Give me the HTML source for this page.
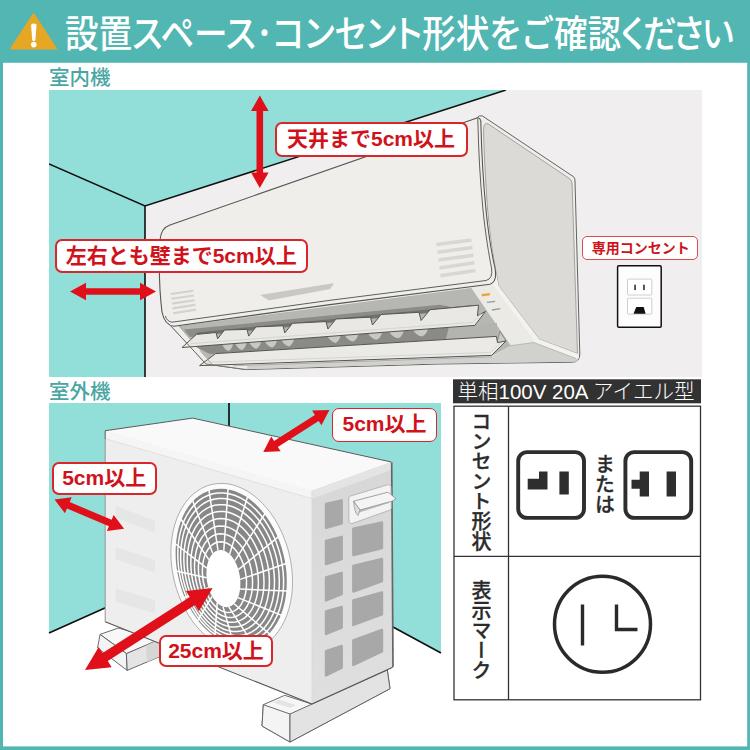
<!DOCTYPE html>
<html lang="ja">
<head>
<meta charset="utf-8">
<title>設置スペース・コンセント形状をご確認ください</title>
<style>
html,body{margin:0;padding:0;background:#52b6b2;}
body{width:750px;height:750px;position:relative;overflow:hidden;font-family:"Liberation Sans","Noto Sans CJK JP",sans-serif;}
#stage{position:absolute;left:0;top:0;width:750px;height:750px;}
svg{position:absolute;left:0;top:0;}
.t{position:absolute;white-space:nowrap;line-height:1;}
.title{left:64.5px;top:16px;font-size:37.5px;color:#fff;font-weight:500;transform:scaleX(0.896);transform-origin:0 0;font-feature-settings:"palt";}
.sec{color:#4aa6a2;font-size:20.5px;font-weight:500;}
.lbl{position:absolute;box-sizing:border-box;background:#fff;border:2px solid #d8262b;border-radius:7px;color:#d0121b;font-weight:700;text-align:center;white-space:nowrap;}
.vt{position:absolute;writing-mode:vertical-rl;white-space:nowrap;line-height:1;color:#2b2b2b;-webkit-text-stroke:0.3px #2b2b2b;}
</style>
</head>
<body>
<div id="stage">
<svg id="art" width="750" height="750" viewBox="0 0 750 750">
<!-- frame -->
<rect x="0" y="0" width="750" height="750" fill="#52b6b2"/>
<rect x="3" y="62.8" width="744.2" height="683.6" fill="#ffffff"/>
<!-- warning icon -->
<path d="M33.6 14.4 L56 48.6 L11.2 48.6 Z" fill="#e5a724" stroke="#e5a724" stroke-width="2" stroke-linejoin="round"/>
<path d="M31.1 25.5 Q31 23.4 33.8 23.4 Q36.6 23.4 36.5 25.5 L35.4 39.8 Q35.2 41.2 33.8 41.2 Q32.4 41.2 32.2 39.8 Z" fill="#fff"/>
<circle cx="33.8" cy="44.6" r="2.8" fill="#fff"/>
<!--INDOOR-->
<g id="indoor">
<clipPath id="cin"><rect x="49" y="90" width="653" height="287"/></clipPath>
<g clip-path="url(#cin)">
<rect x="49" y="90" width="653" height="287" fill="#f0eeee"/>
<polygon points="49,90 506,90 145,206 145,377 49,377" fill="#92dfda"/>
<path d="M49 164 L145 206 L506 90 M145 206 L145 377" fill="none" stroke="#111" stroke-width="1.6"/>
<path d="M477 117.8 Q479 114.8 482.5 116 L573.6 176.8 Q575 177.8 575 181 L579.8 354 Q580 362 572.3 362.2 L440 364 L246 369.6 L206 364 L165 319 Z" fill="#efeeea" stroke="#62625f" stroke-width="1" stroke-linejoin="round"/>
<polygon points="510.4,345.7 533.9,342.5 576,358.5 579,358 577,361.6 572.3,361.8 440,363.6 246,369.2 233,365.8 492,356.8" fill="#d1d1cd"/>
<path d="M483.6 134 Q482.8 120.3 488.8 124.3 L569.8 178.8 Q572 180.3 572.1 184 L577.5 353.6 L539.2 339.3 L498.7 286 C493.5 262 489.8 235 487.6 210 C485.5 180 484 150 483.6 134 Z" fill="#dbdad6" stroke="#858583" stroke-width="0.7" stroke-linejoin="round"/>
<path d="M481.5 119 C482.3 150 484 180 487 210 C489.5 235 493.5 262 498.7 286 L539.2 339.3 L578.2 354 L579.3 357.8 L576 358.5 L533.9 342.5 L491.3 284.8 C488 262 485 235 483 210 C481 180 480 150 479.5 120 Z" fill="#f3f2ee"/>
<polygon points="470.9,288.1 492.3,284.3 533.9,340 533.9,342.5 510.4,345.7" fill="#ebeae5"/>
<path d="M470.9 288.1 L510.4 345.7 L533.9 342.5 L576 358.5" fill="none" stroke="#9a9a98" stroke-width="0.6"/>
<path d="M165 319 L206 364 L246 369.6 L260 340 L200 322 Z" fill="#efeeea"/>
<path d="M179 326 L470.9 288.1 L510.4 345.7 L492 356 L213 364.5 Z" fill="#b6b6b2"/>
<polygon points="184.0,329.6 440.0,304.8 449.0,306.4 452.0,311.1 190.0,337.0" fill="#8c8c89"/>
<polygon points="197.0,332.5 474.0,304.9 476.0,307.7 197.0,335.3" fill="#6f6f6d"/>
<polygon points="195.0,346.5 449.0,327.5 446.0,339.3 210.0,353.9" fill="#8a8a87"/>
<polygon points="449.0,327.5 497.0,322.9 497.0,336.1 446.0,339.3" fill="#b3b3af"/>
<path d="M222.1 344.5 Q225.4 350.6 228.9 350.9 Q232.0 349.1 233.1 343.7 Z" fill="#c8c8c4"/>
<path d="M235.1 343.5 Q238.5 349.6 242.2 349.9 Q245.4 348.1 246.5 342.7 Z" fill="#c8c8c4"/>
<path d="M249.2 342.5 Q252.8 348.5 256.6 348.8 Q260.0 347.0 261.1 341.6 Z" fill="#c8c8c4"/>
<path d="M264.6 341.3 Q268.3 347.3 272.3 347.6 Q275.7 345.8 277.0 340.4 Z" fill="#c8c8c4"/>
<path d="M281.2 340.1 Q285.0 346.1 289.1 346.4 Q292.7 344.6 294.0 339.1 Z" fill="#c8c8c4"/>
<path d="M327.4 336.6 Q331.4 342.6 335.6 342.9 Q339.3 341.1 340.6 335.6 Z" fill="#c8c8c4"/>
<path d="M344.6 335.3 Q348.8 341.3 353.1 341.6 Q357.0 339.8 358.4 334.3 Z" fill="#c8c8c4"/>
<path d="M367.9 333.6 Q372.2 339.5 376.7 339.8 Q380.7 338.0 382.1 332.5 Z" fill="#c8c8c4"/>
<path d="M389.1 332.0 Q393.5 337.9 398.2 338.2 Q402.2 336.4 403.7 330.9 Z" fill="#c8c8c4"/>
<path d="M412.9 330.2 Q417.4 336.1 422.2 336.4 Q426.4 334.6 427.9 329.1 Z" fill="#c8c8c4"/>
<polygon points="500,331.4 496.6,343.5 506,341" fill="#c9c9c5" stroke="#666" stroke-width="0.6" stroke-linejoin="round"/>
<polygon points="182.0,347.5 196.4,334.4 216.0,332.5 217.6,338.8 224.5,330.0 247.0,329.4 248.7,336.1 256.0,326.9 283.0,325.8 284.8,332.9 292.5,323.3 326.0,321.6 327.9,329.0 336.0,319.0 370.5,317.2 372.5,325.0 381.0,314.5 419.0,312.3 421.1,320.5 430.1,309.7 478.6,305.2 477.4,315.8 485.6,311.4 474.8,325.4" fill="#e9e8e4" stroke="#555553" stroke-width="1" stroke-linejoin="round"/>
<path d="M190.0 343.7 L473.0 322.3 L481.0 313.5" fill="none" stroke="#cfcfcb" stroke-width="0.8"/>
<polygon points="199.6,365.6 215.6,353.6 496.4,336.4 497.5,342.6 506.0,341.0 491.6,355.4" fill="#ebeae6" stroke="#555553" stroke-width="1" stroke-linejoin="round"/>
<path d="M207.0 362.3 L490.5 352.4 L500.5 343.2" fill="none" stroke="#cfcfcb" stroke-width="0.8"/>
<path d="M166 320.8 L206 364 L246 369.5" fill="none" stroke="#6a6a68" stroke-width="0.9"/>
<path d="M179 326 L190.5 339.5 M200 350.5 L212 364.3" fill="none" stroke="#8a8a88" stroke-width="0.7"/>
<path d="M233 365.8 L492 356.8" fill="none" stroke="#9a9a98" stroke-width="0.7"/>
<path d="M170 225 L475.5 118.4 Q480 116.8 480.8 121 C481.5 150 483 180 486 210 C488.5 235 492 255 495 268 Q497.5 282 490 284.2 L330 304.6 L174 326.3 Q164.5 325 162 312 Q158 280 160 240 Q161 228 170 225 Z" fill="#efeeea" stroke="#555553" stroke-width="1.1" stroke-linejoin="round"/>
<path d="M477.8 119 C478.5 150 480 180 483 210 C485.5 235 489 255 491.5 268 Q493.2 278.8 486 280.5 L330 300.3 L172 322.2 Q167 321.5 165.3 316" fill="none" stroke="#5e5e5c" stroke-width="1" stroke-linejoin="round"/>
<g stroke="#d3d2cd" stroke-width="2.1"><path d="M170.7 294 L193.3 290.8 M171.3 298.8 L194 295.5 M171.9 303.6 L194.7 300.2 M172.5 308.4 L195.4 304.9 M173.1 313.2 L196 309.6"/></g>
<g stroke="#d8d7d2" stroke-width="3.5"><path d="M436.5 244.5 L471.5 240 M437.5 252.3 L472.5 247.6 M438.5 260.1 L473.5 255.2 M439.5 267.9 L474.5 262.8 M440.5 275.7 L475.5 270.4"/></g>
<path d="M260.1 294.9 L333 283.3 Q334 283.3 333.4 284.2 L330.4 288.6 Q330 289.1 329 289.3 L270 300.3 Q268.8 300.4 267.8 299.8 Z" fill="#c9c8c4"/>
<polygon points="481.5,294 489.8,292.9 490.1,295.3 481.8,296.4" fill="#e9a53c"/>
<path d="M487 302.3 L495.2 301.3 M492 310 L500.3 308.6" stroke="#9a9a98" stroke-width="1.3"/>
<g fill="#e0101a">
<path d="M259.8 95.5 L268.6 111 L263.1 111 L263.1 172.5 L268.6 172.5 L259.8 188 L251 172.5 L256.5 172.5 L256.5 111 L251 111 Z"/>
<path d="M70 291.5 L86 282.8 L86 288.2 L140 288.2 L140 282.8 L156 291.5 L140 300.2 L140 294.8 L86 294.8 L86 300.2 Z"/>
</g>
<!-- outlet plate -->
<rect x="617.6" y="265.8" width="43.6" height="61.4" rx="1.2" fill="#fdfdfd" stroke="#111" stroke-width="1.5"/>
<rect x="627.5" y="279.1" width="24.3" height="15.9" rx="0.8" fill="#fff" stroke="#c4c4c4" stroke-width="0.8"/>
<rect x="627.5" y="298.2" width="24.3" height="16" rx="0.8" fill="#fff" stroke="#c4c4c4" stroke-width="0.8"/>
<rect x="634.3" y="284.7" width="1.5" height="5.4" fill="#222"/><rect x="643.2" y="284.7" width="1.5" height="5.4" fill="#222"/>
<path d="M636.3 307.1 L643.7 307.1 L645.6 313.7 L633.5 313.7 Z" fill="#111"/>
</g>
</g>
<!--OUTDOOR-->
<g id="outdoor">
<!-- walls -->
<polygon points="49,403 229,403 229,553 49,633" fill="#92dfda"/>
<polygon points="229,403 441,403 441,653 394,627.5 229,540" fill="#92dfda"/>
<path d="M229 403 L229 426 M49 633 L106 607.5 M441 653 L393 627" fill="none" stroke="#111" stroke-width="1.7"/>
<!-- left foot -->
<g stroke="#5a5a5a" stroke-width="0.9" stroke-linejoin="round">
<polygon points="100,634.4 118.4,628 160,640 126.4,653.6" fill="#f8f8f8"/>
<polygon points="100,634.4 126.4,653.6 127.2,670.4 97.6,648" fill="#f4f4f4"/>
<polygon points="126.4,653.6 165,637 166,654 127.2,670.4" fill="#e4e4e4"/>
</g>
<polygon points="146,645.5 165,637.3 165.7,653.8 147,662" fill="#d6d6d6"/>
<!-- right foot -->
<g stroke="#5a5a5a" stroke-width="0.9" stroke-linejoin="round">
<polygon points="263.3,704.7 284.7,695.3 311.9,704 387.3,670 390,688.7 290,742 262,726" fill="#f7f7f7"/>
<polygon points="263.3,704.7 290,714 290,742 262,726" fill="#f4f4f4"/>
<polygon points="290,714 387.3,670 390,688.7 290,742" fill="#e3e3e3"/>
</g>
<polygon points="279,699.5 296,705 290,708 273,702.5" fill="#e4e4e4"/>
<!-- unit -->
<polygon points="105.2,430.7 192.7,418.1 391.3,462 392.7,667.3 311.9,704 105.2,621.7" fill="#f2f2f2"/>
<polygon points="105.2,430.7 192.7,418.1 391.3,462 311.9,490.7" fill="#f9f9f9"/>
<polygon points="105.2,430.7 311.9,490.7 311.9,498.7 105.2,438.7" fill="#f5f5f5"/>
<polygon points="105.2,438.7 311.9,498.7 311.9,704 105.2,621.7" fill="#eeeeee"/>
<linearGradient id="gside" x1="0" y1="0" x2="0" y2="1"><stop offset="0" stop-color="#d7d7d7"/><stop offset="1" stop-color="#dfdfdf"/></linearGradient>
<polygon points="311.9,490.7 391.3,462 392.7,667.3 311.9,704" fill="url(#gside)"/>
<polygon points="311.9,490.7 391.3,462 391.4,470 311.9,498.7" fill="#e4e4e4"/>
<path d="M105.2 438.7 L311.9 498.7" fill="none" stroke="#dcdcdc" stroke-width="0.8"/>
<path d="M311.9 490.7 L311.9 704" fill="none" stroke="#dadada" stroke-width="0.8"/>
<path d="M105.2 621.7 L105.2 438" fill="none" stroke="#8a8a8a" stroke-width="0.9"/>
<path d="M105.2 438.7 L105.2 430.7 L192.7 418.1 L391.3 462" fill="none" stroke="#5a5a5a" stroke-width="1" stroke-linejoin="round"/>
<path d="M391.7 462.3 L393 667" fill="none" stroke="#666" stroke-width="1.7"/>
<path d="M105.2 621.7 L311.9 704 L392.7 667.3" fill="none" stroke="#555" stroke-width="1.1" stroke-linejoin="round"/>
<!-- front slots -->
<g fill="#e6e6e6">
<polygon points="115.7,506 155,520.7 155,532.7 115.7,517.3"/>
<polygon points="115.7,546.7 155,560 155,572.7 115.7,559.3"/>
<polygon points="115.7,588.3 155,600 155,613.3 115.7,601.7"/>
</g>
<!-- side grille -->
<g fill="#a8a8a8" stroke="#a8a8a8" stroke-width="2.4" stroke-linejoin="round">
<polygon points="326,504 341.7,500.3 341.7,523.4 326,527.8"/>
<polygon points="326,540.8 341.7,536.8 341.7,559.2 326,564"/>
<polygon points="326,577.3 341.7,573 341.7,594.2 326,600.5"/>
<polygon points="326,611.3 341.7,607 341.7,627.6 326,634"/>
<polygon points="326,651.2 341.7,645.9 341.7,667.6 326,675.4"/>
<polygon points="353.3,528.6 382,522.5 382,548 353.3,555"/>
<polygon points="353.3,566 382,559 382,581 353.3,591.5"/>
<polygon points="353.3,600.5 382,592.5 382,614.3 353.3,625"/>
<polygon points="353.3,640.5 382,630 382,651.5 353.3,665"/>
</g>
<!-- handle -->
<path d="M348.8 498.5 Q348.6 496.6 350.6 496 L387.5 484.8 Q390.3 484 391 486.5 L391.3 508 Q391.3 509.6 389.6 510.2 L353 523.2 Q349.2 524.4 348.9 521 Z" fill="#f3f3f3" stroke="#a9a9a9" stroke-width="0.8" stroke-linejoin="round"/>
<path d="M356.5 513.5 L388.8 503 L391.3 498 L360 507.5 Z" fill="#bcbcbc"/>
<path d="M353.6 501.2 L387.2 492.4 Q388.6 492.2 389.4 493.2 L396 498.8 L392 501.2 L360 510 Z" fill="#f4f4f4" stroke="#8d8d8d" stroke-width="0.8" stroke-linejoin="round"/>
<path d="M353.6 501.2 L360 510 L358 515.5 Q354.5 513 353.6 501.2 Z" fill="#dedede" stroke="#8d8d8d" stroke-width="0.7" stroke-linejoin="round"/>
<path d="M289.0 553.1 L290.5 560.4 L291.7 567.7 L292.3 575.0 L292.5 582.3 L292.3 589.4 L291.5 596.4 L290.4 603.1 L288.7 609.6 L286.7 615.8 L284.2 621.5 L281.3 626.9 L278.1 631.8 L274.5 636.3 L270.5 640.2 L266.3 643.5 L261.8 646.3 L257.1 648.5 L252.2 650.0 L247.1 650.9 L241.9 651.2 L236.6 650.9 L231.3 649.9 L226.0 648.2 L220.8 646.0 L215.6 643.2 L210.6 639.8 L205.7 635.8 L201.0 631.3 L196.5 626.3 L192.3 620.9 L188.4 615.1 L184.9 608.9 L181.7 602.4 L178.9 595.6 L176.4 588.6 L174.4 581.5 L172.9 574.2 L171.7 566.9 L171.1 559.6 L170.9 552.3 L171.1 545.2 L171.9 538.2 L173.0 531.5 L174.7 525.0 L176.7 518.8 L179.2 513.1 L182.1 507.7 L185.3 502.8 L188.9 498.3 L192.9 494.4 L197.1 491.1 L201.6 488.3 L206.3 486.1 L211.2 484.6 L216.3 483.7 L221.5 483.4 L226.8 483.7 L232.1 484.7 L237.4 486.4 L242.6 488.6 L247.8 491.4 L252.8 494.8 L257.7 498.8 L262.4 503.3 L266.9 508.3 L271.1 513.7 L275.0 519.5 L278.5 525.7 L281.7 532.2 L284.5 539.0 L287.0 546.0 Z" fill="#fbfbfb" stroke="#9c9c9c" stroke-width="0.8"/>
<path d="M283.4 554.3 L284.9 561.1 L286.0 567.9 L286.6 574.8 L286.8 581.5 L286.6 588.2 L286.0 594.7 L285.0 601.0 L283.5 607.1 L281.7 612.8 L279.5 618.2 L276.9 623.2 L273.9 627.8 L270.6 631.9 L267.1 635.6 L263.2 638.7 L259.1 641.2 L254.8 643.2 L250.4 644.7 L245.7 645.5 L241.0 645.7 L236.2 645.4 L231.4 644.4 L226.5 642.9 L221.7 640.7 L216.9 638.1 L212.3 634.8 L207.8 631.1 L203.5 626.9 L199.4 622.2 L195.6 617.1 L192.0 611.7 L188.7 605.8 L185.7 599.7 L183.1 593.4 L180.8 586.8 L179.0 580.1 L177.5 573.3 L176.4 566.5 L175.8 559.6 L175.6 552.9 L175.8 546.2 L176.4 539.7 L177.4 533.4 L178.9 527.3 L180.7 521.6 L182.9 516.2 L185.5 511.2 L188.5 506.6 L191.8 502.5 L195.3 498.8 L199.2 495.7 L203.3 493.2 L207.6 491.2 L212.0 489.7 L216.7 488.9 L221.4 488.7 L226.2 489.0 L231.0 490.0 L235.9 491.5 L240.7 493.7 L245.5 496.3 L250.1 499.6 L254.6 503.3 L258.9 507.5 L263.0 512.2 L266.8 517.3 L270.4 522.7 L273.7 528.6 L276.7 534.7 L279.3 541.0 L281.6 547.6 Z" fill="#878787"/>
<path d="M245.7 573.5 L246.2 577.1 L246.5 580.8 L246.5 584.5 L246.3 588.1 L245.9 591.5 L245.2 594.8 L244.3 597.9 L243.1 600.8 L241.8 603.4 L240.3 605.7 L238.6 607.7 L236.7 609.4 L234.7 610.7 L232.6 611.6 L230.4 612.2 L228.2 612.4 L225.9 612.2 L223.6 611.6 L221.3 610.6 L219.0 609.3 L216.8 607.6 L214.7 605.6 L212.6 603.3 L210.7 600.6 L209.0 597.8 L207.4 594.7 L206.1 591.4 L204.9 587.9 L203.9 584.3 L203.2 580.7 L202.7 577.0 L202.4 573.3 L202.4 569.7 L202.6 566.1 L203.0 562.6 L203.7 559.4 L204.6 556.3 L205.8 553.4 L207.1 550.8 L208.6 548.5 L210.3 546.5 L212.2 544.8 L214.2 543.5 L216.3 542.5 L218.5 542.0 L220.7 541.8 L223.0 542.0 L225.3 542.6 L227.6 543.5 L229.9 544.8 L232.1 546.5 L234.2 548.6 L236.3 550.9 L238.1 553.5 L239.9 556.4 L241.4 559.5 L242.8 562.8 L244.0 566.2 L245.0 569.8 Z M251.5 570.9 L252.1 575.2 L252.5 579.6 L252.5 584.0 L252.3 588.2 L251.8 592.3 L250.9 596.2 L249.8 599.9 L248.5 603.3 L246.9 606.5 L245.0 609.2 L242.9 611.7 L240.7 613.7 L238.3 615.3 L235.7 616.5 L233.0 617.2 L230.3 617.4 L227.4 617.2 L224.6 616.6 L221.8 615.5 L219.0 614.0 L216.3 612.0 L213.7 609.7 L211.2 606.9 L208.9 603.9 L206.7 600.5 L204.8 596.8 L203.1 592.9 L201.6 588.9 L200.4 584.6 L199.5 580.3 L198.8 575.9 L198.5 571.6 L198.4 567.2 L198.6 563.0 L199.2 558.9 L200.0 555.0 L201.1 551.3 L202.5 547.8 L204.1 544.7 L205.9 541.9 L208.0 539.5 L210.2 537.5 L212.7 535.9 L215.2 534.7 L217.9 534.0 L220.7 533.7 L223.5 533.9 L226.3 534.6 L229.1 535.7 L231.9 537.2 L234.6 539.2 L237.2 541.5 L239.7 544.3 L242.1 547.3 L244.2 550.7 L246.1 554.4 L247.9 558.2 L249.3 562.3 L250.5 566.5 Z M257.0 568.3 L257.8 573.3 L258.2 578.3 L258.4 583.3 L258.1 588.2 L257.5 593.0 L256.6 597.5 L255.3 601.8 L253.7 605.7 L251.9 609.4 L249.7 612.6 L247.3 615.4 L244.7 617.8 L241.8 619.7 L238.8 621.1 L235.7 622.0 L232.4 622.3 L229.1 622.2 L225.8 621.5 L222.4 620.2 L219.2 618.5 L215.9 616.3 L212.9 613.6 L209.9 610.5 L207.1 607.0 L204.6 603.2 L202.3 599.0 L200.2 594.5 L198.5 589.9 L197.0 585.0 L195.9 580.0 L195.1 575.0 L194.6 570.0 L194.5 565.0 L194.8 560.1 L195.4 555.3 L196.3 550.8 L197.6 546.5 L199.1 542.6 L201.0 538.9 L203.2 535.7 L205.6 532.9 L208.2 530.5 L211.1 528.6 L214.1 527.2 L217.2 526.3 L220.5 526.0 L223.8 526.2 L227.1 526.9 L230.4 528.1 L233.7 529.8 L236.9 532.0 L240.0 534.7 L243.0 537.8 L245.7 541.3 L248.3 545.1 L250.6 549.3 L252.7 553.8 L254.4 558.4 L255.9 563.3 Z M262.3 565.7 L263.3 571.3 L263.8 577.0 L264.0 582.6 L263.8 588.2 L263.1 593.5 L262.1 598.6 L260.7 603.5 L258.9 608.0 L256.8 612.1 L254.3 615.8 L251.6 619.0 L248.6 621.7 L245.4 623.9 L241.9 625.5 L238.3 626.6 L234.6 627.0 L230.8 626.9 L227.0 626.1 L223.2 624.8 L219.4 622.9 L215.7 620.5 L212.2 617.5 L208.8 614.0 L205.6 610.1 L202.6 605.8 L199.9 601.1 L197.6 596.2 L195.5 590.9 L193.8 585.5 L192.5 579.9 L191.5 574.2 L191.0 568.5 L190.8 562.9 L191.0 557.4 L191.7 552.0 L192.7 546.9 L194.1 542.1 L195.9 537.5 L198.0 533.4 L200.4 529.7 L203.2 526.5 L206.2 523.8 L209.4 521.6 L212.8 520.0 L216.4 519.0 L220.1 518.5 L223.9 518.7 L227.8 519.4 L231.6 520.7 L235.4 522.6 L239.1 525.1 L242.6 528.0 L246.0 531.5 L249.2 535.4 L252.2 539.7 L254.8 544.4 L257.2 549.4 L259.3 554.6 L261.0 560.1 Z M267.4 563.1 L268.5 569.3 L269.2 575.6 L269.4 581.9 L269.2 588.0 L268.5 593.9 L267.4 599.6 L265.9 605.0 L263.9 610.1 L261.6 614.7 L258.9 618.8 L255.8 622.4 L252.5 625.4 L248.9 627.9 L245.0 629.7 L241.0 630.9 L236.9 631.5 L232.6 631.4 L228.3 630.6 L224.0 629.2 L219.8 627.1 L215.6 624.5 L211.6 621.2 L207.8 617.5 L204.2 613.2 L200.8 608.4 L197.8 603.3 L195.1 597.8 L192.7 592.0 L190.8 586.0 L189.2 579.8 L188.1 573.5 L187.4 567.3 L187.2 561.0 L187.4 554.9 L188.1 548.9 L189.2 543.2 L190.7 537.8 L192.7 532.8 L195.0 528.2 L197.7 524.1 L200.8 520.5 L204.1 517.4 L207.7 515.0 L211.6 513.1 L215.6 511.9 L219.7 511.4 L224.0 511.5 L228.3 512.3 L232.6 513.7 L236.8 515.7 L241.0 518.4 L245.0 521.6 L248.8 525.4 L252.4 529.7 L255.8 534.5 L258.8 539.6 L261.5 545.1 L263.9 550.9 L265.8 556.9 Z M272.2 560.6 L273.4 567.4 L274.2 574.3 L274.5 581.1 L274.3 587.8 L273.7 594.3 L272.5 600.5 L270.8 606.4 L268.7 611.9 L266.2 617.0 L263.2 621.5 L259.9 625.5 L256.3 628.9 L252.3 631.6 L248.1 633.7 L243.7 635.0 L239.1 635.7 L234.4 635.6 L229.7 634.8 L224.9 633.3 L220.2 631.2 L215.6 628.3 L211.2 624.8 L206.9 620.7 L202.9 616.1 L199.2 610.9 L195.8 605.4 L192.7 599.4 L190.1 593.1 L187.9 586.5 L186.2 579.8 L184.9 573.0 L184.1 566.1 L183.8 559.3 L184.0 552.6 L184.7 546.1 L185.8 539.9 L187.5 533.9 L189.6 528.4 L192.1 523.4 L195.1 518.8 L198.4 514.9 L202.1 511.5 L206.0 508.8 L210.2 506.7 L214.6 505.3 L219.2 504.7 L223.9 504.8 L228.6 505.5 L233.4 507.0 L238.1 509.2 L242.7 512.1 L247.1 515.6 L251.4 519.6 L255.4 524.3 L259.1 529.4 L262.5 535.0 L265.6 541.0 L268.2 547.3 L270.4 553.8 Z M276.6 558.2 L278.0 565.5 L278.9 572.9 L279.3 580.3 L279.2 587.5 L278.5 594.5 L277.2 601.3 L275.5 607.6 L273.2 613.6 L270.5 619.1 L267.3 624.0 L263.8 628.4 L259.8 632.0 L255.6 635.0 L251.0 637.3 L246.2 638.8 L241.3 639.6 L236.2 639.5 L231.0 638.8 L225.9 637.2 L220.7 634.9 L215.7 631.9 L210.9 628.2 L206.2 623.8 L201.8 618.8 L197.7 613.3 L194.0 607.3 L190.6 600.9 L187.7 594.2 L185.3 587.1 L183.3 579.9 L181.9 572.5 L181.0 565.1 L180.6 557.8 L180.8 550.6 L181.5 543.5 L182.7 536.8 L184.4 530.4 L186.7 524.4 L189.4 518.9 L192.6 514.0 L196.1 509.7 L200.1 506.0 L204.4 503.0 L208.9 500.7 L213.7 499.2 L218.7 498.5 L223.7 498.5 L228.9 499.3 L234.1 500.8 L239.2 503.1 L244.2 506.2 L249.1 509.9 L253.7 514.2 L258.1 519.2 L262.2 524.7 L265.9 530.7 L269.3 537.1 L272.2 543.9 L274.6 550.9 Z M280.5 556.0 L282.1 563.8 L283.1 571.6 L283.6 579.5 L283.5 587.2 L282.8 594.7 L281.5 601.9 L279.7 608.7 L277.3 615.1 L274.4 620.9 L271.1 626.2 L267.3 630.9 L263.1 634.8 L258.5 638.0 L253.7 640.5 L248.6 642.2 L243.3 643.0 L237.8 643.0 L232.3 642.2 L226.8 640.6 L221.3 638.2 L215.9 635.1 L210.6 631.1 L205.6 626.5 L200.9 621.3 L196.5 615.5 L192.4 609.1 L188.8 602.3 L185.7 595.2 L183.0 587.7 L180.8 580.0 L179.2 572.2 L178.2 564.3 L177.8 556.5 L177.9 548.8 L178.6 541.3 L179.8 534.1 L181.7 527.3 L184.0 520.9 L186.9 515.0 L190.3 509.8 L194.1 505.1 L198.2 501.1 L202.8 497.9 L207.7 495.5 L212.8 493.8 L218.1 493.0 L223.5 492.9 L229.0 493.7 L234.6 495.3 L240.1 497.7 L245.5 500.9 L250.7 504.8 L255.7 509.4 L260.5 514.7 L264.9 520.5 L268.9 526.8 L272.5 533.6 L275.7 540.8 L278.3 548.3 Z" fill="none" stroke="#fff" stroke-width="1.5"/>
<path d="M240.2 579.4 L286.3 563.5 M240.1 589.1 L287.4 590.9 M237.9 597.6 L281.7 615.4 M234.0 603.7 L269.9 634.2 M228.8 606.9 L253.5 644.8 M223.0 606.6 L234.3 646.1 M217.2 602.9 L214.8 637.8 M212.1 596.3 L197.3 621.1 M208.5 587.6 L183.8 597.8 M206.6 577.8 L176.1 570.9 M206.7 568.1 L175.0 543.5 M208.9 559.6 L180.7 519.0 M212.8 553.5 L192.5 500.2 M218.0 550.3 L208.9 489.6 M223.8 550.6 L228.1 488.3 M229.6 554.3 L247.6 496.6 M234.7 560.9 L265.1 513.3 M238.3 569.6 L278.6 536.6" fill="none" stroke="#fff" stroke-width="1.5"/>
<path d="M239.8 576.0 L240.1 578.5 L240.3 581.0 L240.4 583.5 L240.3 585.9 L240.2 588.3 L239.9 590.6 L239.4 592.8 L238.9 594.9 L238.2 596.9 L237.4 598.7 L236.5 600.4 L235.5 601.9 L234.4 603.3 L233.2 604.4 L232.0 605.4 L230.7 606.2 L229.3 606.7 L227.9 607.0 L226.5 607.2 L225.0 607.1 L223.5 606.7 L222.0 606.2 L220.6 605.5 L219.1 604.5 L217.7 603.4 L216.3 602.1 L215.0 600.6 L213.7 598.9 L212.6 597.0 L211.5 595.1 L210.4 593.0 L209.5 590.8 L208.7 588.5 L208.0 586.1 L207.5 583.7 L207.0 581.2 L206.7 578.7 L206.5 576.2 L206.4 573.7 L206.5 571.3 L206.6 568.9 L206.9 566.6 L207.4 564.4 L207.9 562.3 L208.6 560.3 L209.4 558.5 L210.3 556.8 L211.3 555.3 L212.4 553.9 L213.6 552.8 L214.8 551.8 L216.1 551.0 L217.5 550.5 L218.9 550.2 L220.3 550.0 L221.8 550.1 L223.3 550.5 L224.8 551.0 L226.2 551.7 L227.7 552.7 L229.1 553.8 L230.5 555.1 L231.8 556.6 L233.1 558.3 L234.2 560.2 L235.3 562.1 L236.4 564.2 L237.3 566.4 L238.1 568.7 L238.8 571.1 L239.3 573.5 Z" fill="#fff"/>
<!-- arrows -->
<g fill="#e0101a">
<path d="M0 0 L15 -8.7 L15 -3.5 L63.4 -3.5 L63.4 -8.7 L78.4 0 L63.4 8.7 L63.4 3.5 L15 3.5 L15 8.7 Z" transform="translate(263.3 452) rotate(-32.5)"/>
<path d="M0 0 L15 -8.7 L15 -3.5 L60.5 -3.5 L60.5 -8.7 L75.5 0 L60.5 8.7 L60.5 3.5 L15 3.5 L15 8.7 Z" transform="translate(54.5 499.5) rotate(22.8)"/>
<path d="M0 0 L24 -12 L24 -4.8 L127.6 -4.8 L127.6 -12 L151.6 0 L127.6 12 L127.6 4.8 L24 4.8 L24 12 Z" transform="translate(85 670) rotate(-32.7)"/>
</g>
</g>

<!--TABLE-->
<g id="table">
<rect x="453" y="379.3" width="248" height="24" fill="#323232"/>
<rect x="454" y="406.2" width="246.5" height="293.6" fill="#fff" stroke="#333" stroke-width="1.3"/>
<path d="M508.5 406.2 L508.5 699.8 M454 556.3 L700.5 556.3" stroke="#333" stroke-width="1.3" fill="none"/>
<!-- outlets -->
<rect x="518.2" y="452.1" width="65.8" height="65.8" rx="9" fill="#fff" stroke="#2e2e2e" stroke-width="3.9"/>
<path d="M527.7 478.8 L539 478.8 L539 471.6 L547.5 471.6 L547.5 489.5 L527.7 489.5 Z M559.4 471.6 H568.8 V494.6 H559.4 Z" fill="#2e2e2e"/>
<rect x="625.4" y="452.1" width="65.8" height="65.8" rx="9" fill="#fff" stroke="#2e2e2e" stroke-width="3.9"/>
<path d="M631.5 479.8 L639.7 479.8 L639.7 471.6 L649 471.6 L649 496.6 L639.7 496.6 L639.7 488.8 L631.5 488.8 Z M666.6 471.6 H676 V496.6 H666.6 Z" fill="#2e2e2e"/>
<!-- mark -->
<circle cx="602.5" cy="624.3" r="48" fill="#fff" stroke="#2a2a2a" stroke-width="3.5"/>
<path d="M582.5 604.5 V645.5 M616.5 604.5 V629.5 H637.5" fill="none" stroke="#2a2a2a" stroke-width="3.4"/>
</g>

</svg>
<div class="t title">設置スペース･コンセント形状を<span style="position:relative;left:2px">ご</span><span style="position:relative;left:4.5px">確認く</span><span style="position:relative;left:3px">だ</span><span style="position:relative;left:-1px">さ</span><span style="position:relative;left:-2.5px">い</span></div>
<div class="t sec" style="left:49px;top:68px;">室内機</div>
<div class="t sec" style="left:49px;top:382px;">室外機</div>

<div class="t" style="left:457.5px;top:382.3px;font-size:20.5px;color:#fff;font-weight:300;">単相100V 20A アイエル型</div>
<div class="vt" style="left:470px;top:410.5px;font-size:20px;font-weight:500;">コンセント形状</div>
<div class="vt" style="left:470px;top:579.5px;font-size:20px;font-weight:500;">表示マーク</div>
<div class="vt" style="left:593.5px;top:454px;font-size:20px;font-weight:500;">または</div>
<div class="lbl" style="left:274.5px;top:122px;width:193px;height:35px;font-size:21px;line-height:30.5px;">天井まで5cm以上</div>
<div class="lbl" style="left:54.7px;top:239.3px;width:253px;height:34px;font-size:21px;line-height:29.5px;">左右とも壁まで5cm以上</div>
<div class="lbl" style="left:582px;top:236px;width:115.5px;height:23.5px;font-size:14px;line-height:22px;border-width:1.2px;border-radius:5px;border-color:#dd4a4e;padding-left:2px;">専用コンセント</div>
<div class="lbl" style="left:332px;top:408px;width:105px;height:33.5px;font-size:21px;line-height:30px;border-width:1.6px;">5cm以上</div>
<div class="lbl" style="left:51.7px;top:462.3px;width:105px;height:32.3px;font-size:21px;line-height:28.5px;border-width:2px;">5cm以上</div>
<div class="lbl" style="left:159.3px;top:635px;width:113.4px;height:32.3px;font-size:21px;line-height:28.5px;border-width:2px;">25cm以上</div>
</div>
</body>
</html>
